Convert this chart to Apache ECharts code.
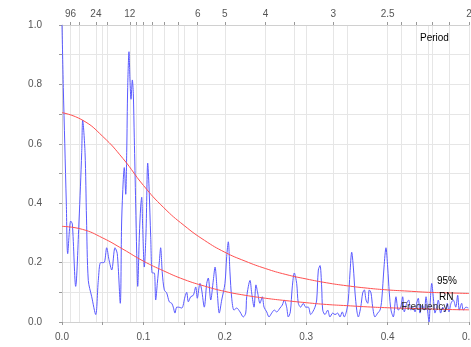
<!DOCTYPE html>
<html style="height: 100%">

<head>
    <meta charset="utf-8" />
    <title>Periodogram</title>
    <script type="text/javascript" src="https://cdn.jsdelivr.net/npm/echarts@6/dist/echarts.min.js"></script>
</head>

<body style="height: 100%; margin: 0; overflow: hidden">
    <div id="container" style="height: 347px; width: 471px"></div>
    <script>
        // spectrum
        var freq = [0, 0.0016, 0.0034, 0.0053, 0.0070, 0.0107, 0.0127, 0.0168, 0.0209, 0.0242, 0.0254, 0.0283, 0.0301, 0.0323, 0.0365, 0.0414, 0.0446, 0.0475, 0.0516, 0.0549, 0.0577, 0.0611, 0.0651, 0.0679, 0.0716,
            0.0733, 0.0753, 0.0765, 0.0783, 0.0795, 0.0807, 0.0823, 0.0835, 0.0848, 0.0864, 0.0876, 0.0888, 0.0905, 0.0918, 0.0930, 0.0950, 0.0967, 0.0979, 0.0991, 0.1011, 0.1032, 0.1053, 0.1069, 0.1090, 0.1109, 0.1134, 0.1151, 0.1171, 0.1195, 0.1212, 0.1232, 0.1257, 0.1286, 0.1318, 0.1348, 0.1367, 0.1388, 0.1409,
            0.1429, 0.1471, 0.1511, 0.1532, 0.1552, 0.1581, 0.1613, 0.1643, 0.1662, 0.1695, 0.1716, 0.1748, 0.1778, 0.1797, 0.1827, 0.1859, 0.1880, 0.1908, 0.1932, 0.1962, 0.2002, 0.2023, 0.2043, 0.2064, 0.2085, 0.2113, 0.2146, 0.2187, 0.2227, 0.2257,
            0.2269, 0.2310, 0.2330, 0.2359, 0.2383, 0.2404, 0.2432, 0.2461, 0.2482, 0.2515, 0.2543, 0.2576, 0.2608, 0.2638, 0.2678, 0.2706, 0.2731, 0.2760, 0.2780, 0.2805, 0.2829, 0.2854, 0.2883, 0.2903, 0.2932, 0.2964, 0.2994, 0.3026, 0.3055, 0.3080, 0.3108, 0.3129, 0.3149, 0.3170, 0.3190, 0.3203, 0.3231, 0.3264, 0.3292, 0.3326, 0.3354, 0.3387, 0.3415, 0.3443, 0.3468, 0.3498,
            0.3517, 0.3538, 0.3559, 0.3579, 0.3600, 0.3621, 0.3640, 0.3670, 0.3694, 0.3714, 0.3735, 0.3756, 0.3775, 0.3796, 0.3817, 0.3845, 0.3878, 0.3907, 0.3928, 0.3956, 0.3980, 0.4001, 0.4021, 0.4042, 0.4070,
            0.4103, 0.4131, 0.4161, 0.4185, 0.4205, 0.4235, 0.4259, 0.4284, 0.4308, 0.4337, 0.4357, 0.4377, 0.4398, 0.4426, 0.4451, 0.4472, 0.4493, 0.4509, 0.4525, 0.4542, 0.4561, 0.4582, 0.4603, 0.4623, 0.4652, 0.4677, 0.4705, 0.4733, 0.4754, 0.4779, 0.4807, 0.4837, 0.4861, 0.4881, 0.4910, 0.4930, 0.4963, 0.4992];
        var power = [1.0, 0.79, 0.6, 0.40, 0.23, 0.34, 0.33, 0.12, 0.34, 0.57, 0.68, 0.57, 0.35, 0.14, 0.085, 0.025, 0.14, 0.2, 0.2, 0.25, 0.21, 0.175, 0.25, 0.23, 0.063,
            0.34, 0.48, 0.52, 0.43, 0.57, 0.79, 0.91, 0.815, 0.75, 0.815, 0.77, 0.62, 0.40, 0.23, 0.12, 0.29, 0.39, 0.42, 0.32, 0.185, 0.30, 0.535, 0.455, 0.285, 0.165, 0.165, 0.074, 0.13, 0.2, 0.25, 0.165, 0.108, 0.098, 0.068, 0.063, 0.05, 0.03, 0.05,
            0.05, 0.047, 0.085, 0.1, 0.068, 0.085, 0.09, 0.118, 0.08, 0.13, 0.108, 0.05, 0.13, 0.148, 0.074, 0.141, 0.185, 0.098, 0.03, 0.074, 0.13, 0.22, 0.27, 0.165, 0.08, 0.04, 0.047, 0.034, 0.017, 0.03,
            0.085, 0.14, 0.098, 0.05, 0.125, 0.098, 0.063, 0.085, 0.05, 0.034, 0.017, 0.03, 0.04, 0.034, 0.047, 0.057, 0.074, 0.05, 0.017, 0.034, 0.118, 0.165, 0.13, 0.063, 0.05, 0.063, 0.05, 0.05, 0.025, 0.034, 0.05, 0.074, 0.175, 0.19, 0.118, 0.04, 0.025, 0.04, 0.017, 0.03, 0.025, 0.03, 0.017, 0.034, 0.017, 0.04,
            0.074, 0.165, 0.235, 0.185, 0.098, 0.04, 0.017, 0.05, 0.098, 0.108, 0.074, 0.063, 0.108, 0.098, 0.05, 0.017, 0.03, 0.04, 0.074, 0.185, 0.25, 0.185, 0.098, 0.04, 0.017,
            0.085, 0.04, 0.05, 0.085, 0.034, 0.063, 0.074, 0.04, 0.05, 0.034, 0.063, 0.08, 0.03, 0.057, 0.04, 0.085, 0.034, 0.0, 0.074, 0.13, 0.085, 0.03, 0.05, 0.074, 0.03, 0.05, 0.034, 0.063, 0.034, 0.063, 0.074, 0.05, 0.09, 0.04, 0.063, 0.04, 0.05, 0.047];

        // red-noise background and 95% level
        var bgFreq = [0, 0.025, 0.05, 0.075, 0.1, 0.125, 0.15, 0.175, 0.2, 0.225, 0.25, 0.275, 0.3, 0.325, 0.35, 0.375, 0.4, 0.425, 0.45, 0.475, 0.5];
        var rn = [0.322, 0.312, 0.283, 0.245, 0.205, 0.172, 0.143, 0.121, 0.103, 0.090, 0.080, 0.072, 0.065, 0.059, 0.055, 0.051, 0.048, 0.046, 0.044, 0.042, 0.041];
        var level95 = [0.705, 0.68, 0.625, 0.55, 0.46, 0.385, 0.325, 0.275, 0.235, 0.205, 0.18, 0.16, 0.145, 0.132, 0.122, 0.114, 0.108, 0.104, 0.100, 0.098, 0.096];

        // top axis: periods
        var periodLabels = [96, 24, 12, 6, 5, 4, 3, 2.5, 2];
        var periodTicks = [96, 48, 24, 18, 12, 11, 10, 9, 8, 7, 6, 5, 4, 3.5, 3, 2.5, 2.4, 2.3, 2.2, 2.1, 2];

        var zip = (xs, ys) => xs.map((x, i) => [x, ys[i]]);

        var dom = document.getElementById("container");
        var myChart = echarts.init(dom, null, { renderer: "canvas" });

        var gridColor = "#e6e6e6";
        var txt = { color: "#555", fontSize: 10, fontFamily: "Liberation Sans, Arial, sans-serif" };

        var option = {
            animation: false,
            backgroundColor: "#fff",
            grid: { left: 62, right: 2, top: 25, bottom: 25, outerBoundsMode: "none", containLabel: false },
            xAxis: [
                {
                    type: "value",
                    min: 0,
                    max: 0.5,
                    interval: 0.05,
                    axisLine: { show: true, lineStyle: { color: "#d0d0d0" } },
                    axisTick: { show: true, length: 3, lineStyle: { color: "#999" } },
                    axisLabel: Object.assign({
                        margin: 10,
                        formatter: v => (Math.round(v * 20) % 2 === 0 ? v.toFixed(1) : "")
                    }, txt),
                    splitLine: { show: true, lineStyle: { color: gridColor } },
                },
                {
                    type: "value",
                    position: "top",
                    min: 0,
                    max: 0.5,
                    axisLine: { show: true, lineStyle: { color: "#d0d0d0" } },
                    axisTick: {
                        show: true, length: 3, lineStyle: { color: "#999" },
                        customValues: periodTicks.map(p => 1 / p)
                    },
                    axisLabel: Object.assign({
                        margin: 6,
                        customValues: periodLabels.map(p => 1 / p),
                        formatter: v => String(+(1 / v).toFixed(1))
                    }, txt),
                    splitLine: { show: true, lineStyle: { color: gridColor } },
                },
            ],
            yAxis: {
                type: "value",
                min: 0,
                max: 1,
                interval: 0.1,
                axisLine: { show: true, lineStyle: { color: "#d0d0d0" } },
                axisTick: { show: true, length: 3, lineStyle: { color: "#999" } },
                axisLabel: Object.assign({
                    margin: 20,
                    formatter: v => (Math.round(v * 10) % 2 === 0 ? v.toFixed(1) : "")
                }, txt),
                splitLine: { show: true, lineStyle: { color: gridColor } },
            },
            series: [
                {
                    type: "line",
                    data: zip(freq, power),
                    showSymbol: false,
                    smooth: 0.3,
                    lineStyle: { color: "#5a5aff", width: 1 },
                    z: 3,
                },
                {
                    type: "line",
                    data: zip(bgFreq, level95),
                    showSymbol: false,
                    smooth: true,
                    lineStyle: { color: "#ff5050", width: 1 },
                    z: 4,
                },
                {
                    type: "line",
                    data: zip(bgFreq, rn),
                    showSymbol: false,
                    smooth: true,
                    lineStyle: { color: "#ff5050", width: 1 },
                    z: 4,
                },
            ],
            graphic: [
                { type: "text", left: 420, top: 33, z: 10, style: Object.assign({ text: "Period" }, txt) },
                { type: "text", left: 437, top: 276, z: 10, style: Object.assign({ text: "95%" }, txt) },
                { type: "text", left: 439, top: 292, z: 10, style: Object.assign({ text: "RN" }, txt) },
                { type: "text", left: 401, top: 302, z: 10, style: Object.assign({}, txt, { text: "Frequency", fill: "#333" }) },
            ],
        };

        myChart.setOption(option);
    </script>
</body>

</html>
